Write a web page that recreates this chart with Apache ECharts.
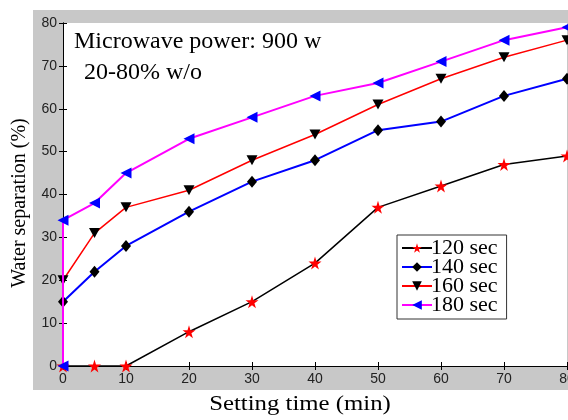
<!DOCTYPE html>
<html><head><meta charset="utf-8">
<script src="https://cdn.jsdelivr.net/npm/echarts@6/dist/echarts.min.js"></script>
<style>html,body{margin:0;padding:0;background:#fff}#c{width:568px;height:420px}</style>
</head><body><div id="c"></div>
<script>
const xTime = [0, 5, 10, 20, 30, 40, 50, 60, 70, 80];
const sec120 = [0, 0, 0, 8, 15, 24, 37, 42, 47, 49];
const sec140 = [15, 22, 28, 36, 43, 48, 55, 57, 63, 67];
const sec160 = [20, 31, 37, 41, 48, 54, 61, 67, 72, 76];
const sec180 = [34, 38, 45, 53, 58, 63, 66, 71, 76, 79];
const sec180Start = [0, 0]; // starting point (x, y) before the vertical rise
const seriesNames = ['120 sec', '140 sec', '160 sec', '180 sec'];
const xTicks = [0, 10, 20, 30, 40, 50, 60, 70, 80];

const pair = (ys) => xTime.map((x, i) => [x, ys[i]]);
const star = 'path://M50,0 L61,35 L98,35 L68,57 L79,91 L50,70 L21,91 L32,57 L2,35 L39,35 Z';
const serif = '"Liberation Serif", "DejaVu Serif", serif';
const sans = '"Liberation Sans", Arial, sans-serif';

const chart = echarts.init(document.getElementById('c'), null, {renderer: 'canvas'});
const axCommon = {
  type: 'value', min: 0, max: 80, interval: 10,
  axisLine: {show: true, lineStyle: {color: '#000', width: 1}},
  axisTick: {show: true, inside: true, length: 4, lineStyle: {color: '#000'}},
  splitLine: {show: false}
};
chart.setOption({
  animation: false,
  backgroundColor: '#fff',
  graphic: [
    {type: 'rect', z: -100, silent: true, shape: {x: 33, y: 10, width: 540, height: 380}, style: {fill: '#c8c8c8'}},
    {type: 'text', z: 100, x: 74, y: 30, style: {text: 'Microwave power: 900 w', font: '24px ' + serif, fill: '#000'}},
    {type: 'text', z: 100, x: 84, y: 61, style: {text: '20-80% w/o', font: '24px ' + serif, fill: '#000'}},
    {type: 'text', z: 100, x: 300, y: 394, scaleX: 1.18,
      style: {text: 'Setting time (min)', font: '21px ' + serif, fill: '#000', textAlign: 'center'}},
    {type: 'text', z: 100, x: 10, y: 203, rotation: Math.PI / 2,
      style: {text: 'Water separation (%)', font: '20px ' + serif, fill: '#000', textAlign: 'center'}}
  ],
  grid: {left: 63, right: 1, top: 23, bottom: 54, show: true, backgroundColor: '#fff', borderWidth: 0,
    outerBoundsMode: 'none', containLabel: false},
  xAxis: [
    Object.assign({}, axCommon, {
      position: 'bottom',
      axisLabel: {color: '#222', fontSize: 14, fontFamily: sans, margin: 6,
        formatter: v => xTicks.includes(v) ? String(v) : ''}
    }),
    Object.assign({}, axCommon, {position: 'top', axisLabel: {show: false}})
  ],
  yAxis: [
    Object.assign({}, axCommon, {
      position: 'left',
      axisLabel: {color: '#222', fontSize: 14, fontFamily: sans, margin: 6}
    }),
    Object.assign({}, axCommon, {position: 'right', axisLabel: {show: false}})
  ],
  legend: {
    orient: 'vertical', left: 397, top: 235,
    data: seriesNames,
    backgroundColor: '#fff', borderColor: '#333', borderWidth: 1,
    padding: [2, 9, 3, 4], itemGap: -3, itemWidth: 30, itemHeight: 12,
    textStyle: {fontFamily: serif, fontSize: 22, lineHeight: 19, color: '#000', padding: [0, 0, 0, -6]}
  },
  series: [
    {name: seriesNames[0], type: 'line', data: pair(sec120),
      symbol: star, symbolSize: 13, lineStyle: {color: '#000', width: 1.5},
      itemStyle: {color: '#ff0000'}, z: 2},
    {name: seriesNames[1], type: 'line', data: pair(sec140),
      symbol: 'diamond', symbolSize: [10, 12], lineStyle: {color: '#0000ff', width: 2},
      itemStyle: {color: '#000'}, z: 3},
    {name: seriesNames[2], type: 'line', data: pair(sec160),
      symbol: 'triangle', symbolRotate: 180, symbolSize: [11, 10], lineStyle: {color: '#ff0000', width: 1.5},
      itemStyle: {color: '#000'}, z: 4},
    {name: seriesNames[3], type: 'line', data: [sec180Start].concat(pair(sec180)),
      symbol: 'triangle', symbolRotate: 90, symbolSize: [11, 11], lineStyle: {color: '#ff00ff', width: 2},
      itemStyle: {color: '#0000ff'}, z: 5}
  ]
});
</script></body></html>
